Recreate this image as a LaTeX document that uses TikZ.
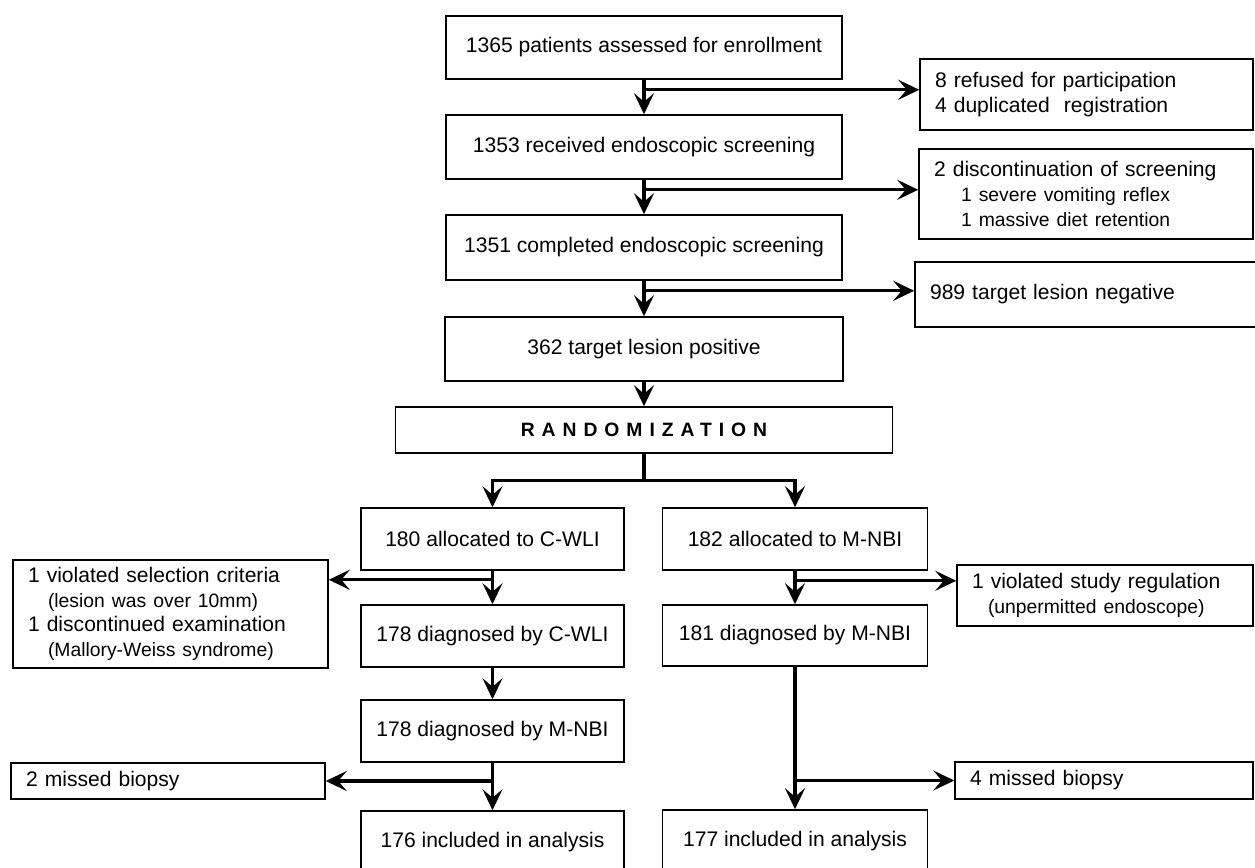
\documentclass[tikz,border=0pt]{standalone}
\usepackage{fontspec}
\setmainfont{Liberation Sans}
\usepackage{tikz}
\usetikzlibrary{arrows.meta, positioning}

\tikzset{
  stagebox/.style={rectangle, draw, line width=0.9pt, align=center, inner sep=0pt,
    font=\fontsize{12}{14}\selectfont},
  sidebox/.style={rectangle, draw, line width=0.9pt, align=left, inner xsep=0.3cm,
    inner ysep=0pt, text width=#1, font=\fontsize{12}{14}\selectfont},
  flow/.style={line width=1.9pt, -{Stealth[length=4.2mm, width=4mm, inset=1.7mm]}},
  trunk/.style={line width=1.9pt}
}
\newcommand{\subline}[2]{\hspace*{#1}{\fontsize{11}{13}\selectfont #2}}

\begin{document}
\begin{tikzpicture}[x=0.02cm, y=-0.02cm]
    \useasboundingbox (0,0) rectangle (1255,867);

    % Screening stages
    \node[stagebox, minimum width=7.92cm, minimum height=1.26cm] (enroll) at (644,47.5) {1365 patients assessed for enrollment};
    \node[stagebox, minimum width=7.92cm, minimum height=1.28cm] (recv) at (644,147) {1353 received endoscopic screening};
    \node[stagebox, minimum width=7.92cm, minimum height=1.3cm] (compl) at (644,247.5) {1351 completed endoscopic screening};
    \node[stagebox, minimum width=7.96cm, minimum height=1.28cm] (pos) at (644,349) {362 target lesion positive};
    \node[stagebox, minimum width=9.94cm, minimum height=0.92cm,
      font=\bfseries\fontsize{11}{13}\selectfont\addfontfeature{LetterSpace=36}] (rand) at (644,430) {RANDOMIZATION};

    % Screening exclusions
    \node[sidebox=6.06cm, minimum height=1.42cm] (refused) at (1086.5,94.5) {8 refused for participation\\4 duplicated\ \ registration};
    \node[sidebox=6.08cm, minimum height=1.8cm] (stopped) at (1086,194) {2 discontinuation of screening\\
      \subline{0.54cm}{1 severe vomiting reflex}\\\subline{0.54cm}{1 massive diet retention}};
    \node[sidebox=6.26cm, minimum height=1.3cm] (neg) at (1086.5,294.5) {989 target lesion negative};

    % C-WLI arm
    \node[stagebox, minimum width=5.26cm, minimum height=1.24cm] (allocA) at (492.5,539) {180 allocated to C-WLI};
    \node[stagebox, minimum width=5.26cm, minimum height=1.24cm] (diagA) at (492.5,636) {178 diagnosed by C-WLI};
    \node[stagebox, minimum width=5.26cm, minimum height=1.24cm] (diagB) at (492.5,731) {178 diagnosed by M-NBI};
    \node[stagebox, minimum width=5.26cm, minimum height=1.24cm] (inclA) at (492.5,842) {176 included in analysis};

    % M-NBI arm
    \node[stagebox, minimum width=5.3cm, minimum height=1.24cm] (allocB) at (795,539) {182 allocated to M-NBI};
    \node[stagebox, minimum width=5.3cm, minimum height=1.22cm] (diagC) at (795,635.5) {181 diagnosed by M-NBI};
    \node[stagebox, minimum width=5.3cm, minimum height=1.24cm] (inclB) at (795,841) {177 included in analysis};

    % Arm exclusions
    \node[sidebox=5.7cm, minimum height=2.16cm] (violA) at (170.5,614) {1 violated selection criteria\\
      \subline{0.4cm}{(lesion was over 10mm)}\\1 discontinued examination\\\subline{0.4cm}{(Mallory-Weiss syndrome)}};
    \node[sidebox=5.68cm, minimum height=0.72cm] (missA) at (168,781) {2 missed biopsy};
    \node[sidebox=5.32cm, minimum height=1.22cm] (violB) at (1105,595.5) {1 violated study regulation\\
      \subline{0.32cm}{(unpermitted endoscope)}};
    \node[sidebox=5.36cm, minimum height=0.74cm] (missB) at (1104,780.5) {4 missed biopsy};

    % Main flow
    \coordinate[below=0.2cm of enroll] (j1);
    \coordinate[below=0.2cm of recv] (j2);
    \coordinate[below=0.2cm of compl] (j3);
    \draw[flow] (enroll) -- (recv);
    \draw[flow] (recv) -- (compl);
    \draw[flow] (compl) -- (pos);
    \draw[flow] (pos) -- (rand);
    \draw[flow] (j1) -- (j1 -| refused.west);
    \draw[flow] (j2) -- (j2 -| stopped.west);
    \draw[flow] (j3) -- (j3 -| neg.west);

    % Split after randomization
    \coordinate[below=0.54cm of rand] (split);
    \draw[trunk] (rand) -- (split);
    \draw[flow] (split) -| (allocA);
    \draw[flow] (split) -| (allocB);

    % C-WLI arm flow
    \coordinate[below=0.18cm of allocA] (j4);
    \coordinate (j6) at (diagB.south |- missA.east);
    \draw[flow] (allocA) -- (diagA);
    \draw[flow] (diagA) -- (diagB);
    \draw[flow] (diagB) -- (inclA);
    \draw[flow] (j4) -- (j4 -| violA.east);
    \draw[flow] (j6) -- (missA);

    % M-NBI arm flow
    \coordinate[below=0.2cm of allocB] (j5);
    \coordinate (j7) at (diagC.south |- missB.west);
    \draw[flow] (allocB) -- (diagC);
    \draw[flow] (diagC) -- (inclB);
    \draw[flow] (j5) -- (j5 -| violB.west);
    \draw[flow] (j7) -- (missB);
\end{tikzpicture}
\end{document}
